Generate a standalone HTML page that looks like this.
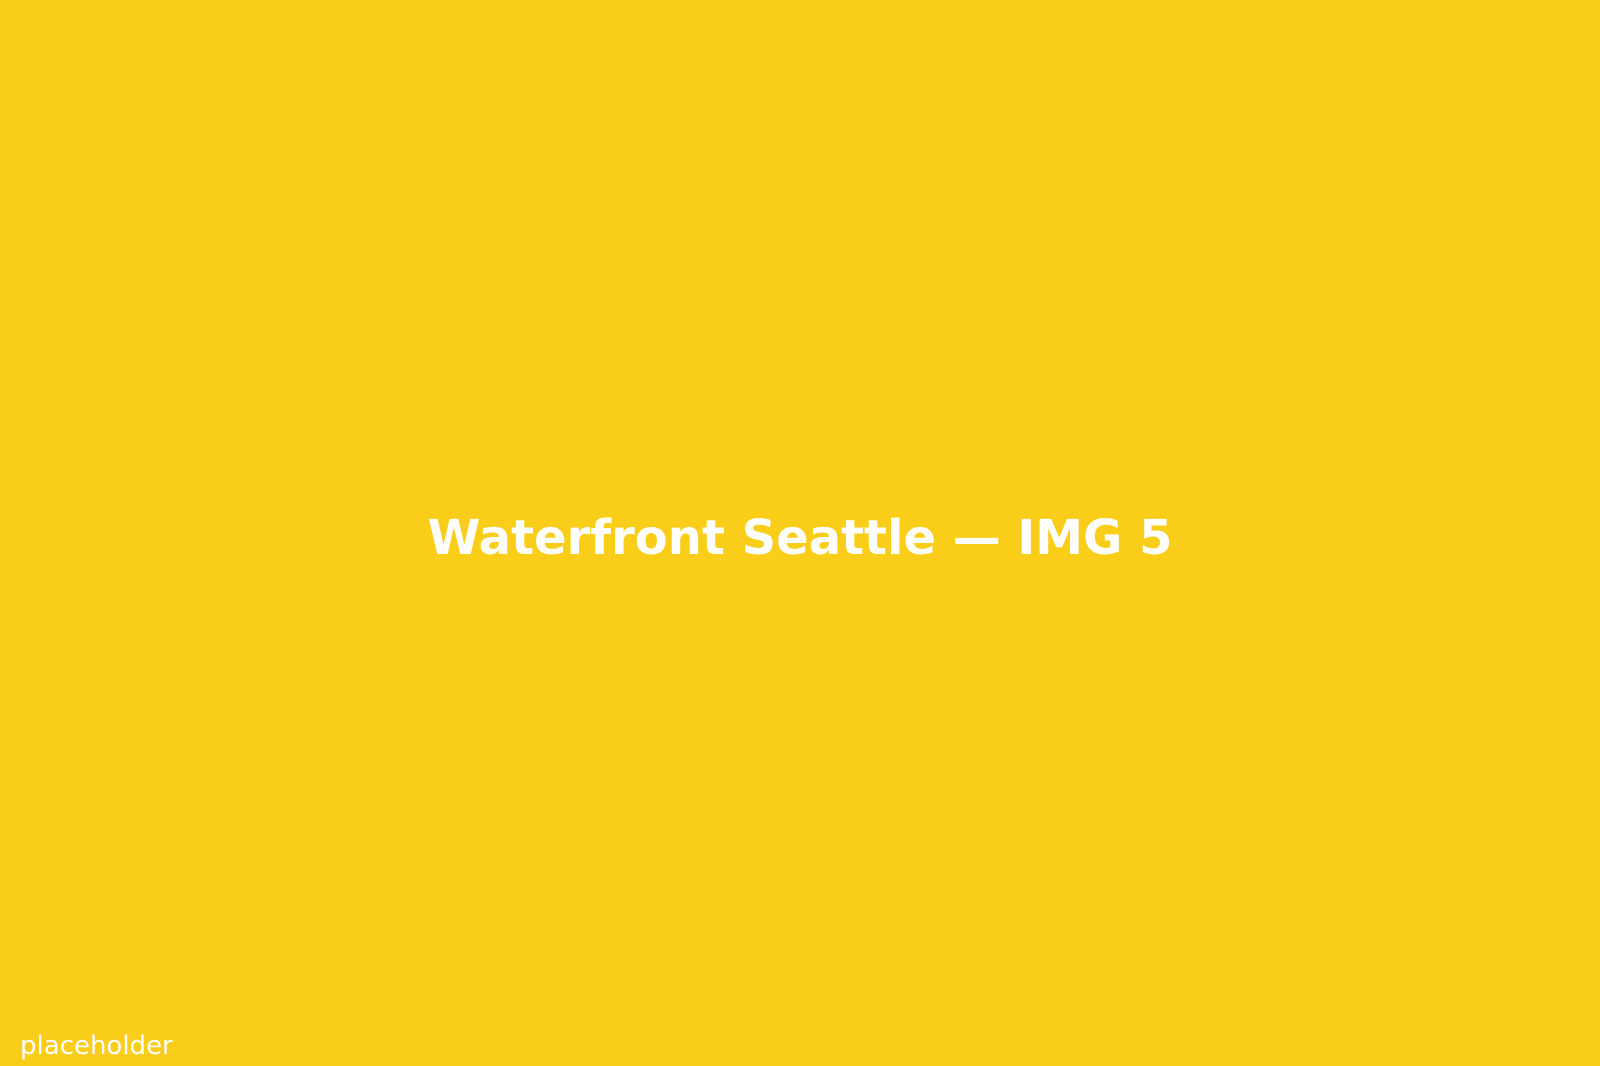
<!DOCTYPE html>
<html>
<head>
<meta charset="utf-8">
<style>
  html, body { margin:0; padding:0; }
  body { width:1600px; height:1066px; background:#FACD19; position:relative; overflow:hidden; font-family:"DejaVu Sans","Liberation Sans",sans-serif; }
  #title { position:absolute; left:0; width:1600px; top:509px; text-align:center; color:#fff; font-weight:bold; font-size:48px; line-height:58px; }
  #ph { position:absolute; left:20px; top:1031px; color:#fff; font-size:26px; line-height:30px; }
</style>
</head>
<body>
  <div id="title">Waterfront Seattle — IMG 5</div>
  <div id="ph">placeholder</div>
</body>
</html>
